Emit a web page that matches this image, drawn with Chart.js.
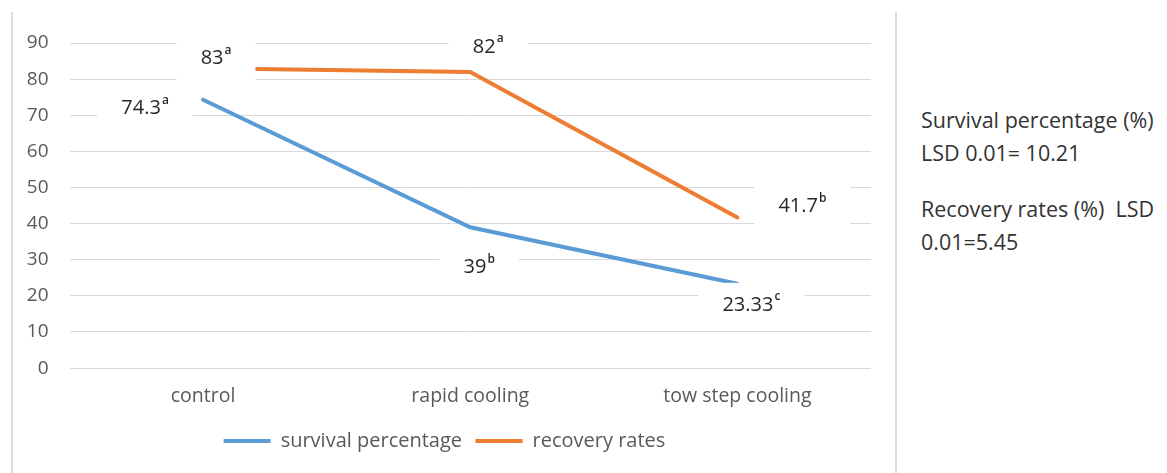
<!DOCTYPE html>
<html lang="en">
  <head>
    <meta charset="UTF-8" />
    <title>Survival and recovery</title>
    <script src="https://cdn.jsdelivr.net/npm/chart.js@4.4.0/dist/chart.umd.min.js"></script>
    <style>
      body { margin: 0; background: #fff; }
      #wrap { position: relative; width: 1167px; height: 473px; overflow: hidden; }
      #box { position: absolute; left: 0; top: 0; width: 896px; height: 473px; }
      .vline { position: absolute; top: 12px; bottom: 0; width: 2px; background: #dcdcdc; }
      #note {
        position: absolute; left: 921px; top: 103px;
        font-family: "Open Sans", sans-serif; font-size: 21.5px; color: #333;
        line-height: 33px;
      }
      #note p { margin: 0 0 23px 0; }
    </style>
  </head>
  <body>
    <div id="wrap">
      <div class="vline" style="left:11px"></div>
      <div class="vline" style="left:895px"></div>
      <div id="box"><canvas id="chart"></canvas></div>
      <div id="note">
        <p>Survival percentage (%)<br />LSD 0.01= 10.21</p>
        <p>Recovery rates (%)&nbsp; LSD<br />0.01=5.45</p>
      </div>
    </div>

    <script>
      // data
      const categories = ["control", "rapid cooling", "tow step cooling"];
      const survival = [74.3, 39, 23.33];
      const recovery = [83, 82, 41.7];
      const survivalLetters = ["a", "b", "c"];
      const recoveryLetters = ["a", "a", "b"];
      const yMin = 0;
      const yMax = 90;
      const yStep = 10;

      const letters = [survivalLetters, recoveryLetters];

      // white boxed value labels with a superscript letter, like Excel draws them
      const valueLabels = {
        id: "valueLabels",
        afterLayout(chart) {
          // legend sits a bit right of centre in the original
          chart.legend.left += 9;
          chart.legend.right += 9;
        },
        afterDatasetsDraw(chart, args, opts) {
          const ctx = chart.ctx;
          ctx.save();
          chart.data.datasets.forEach((ds, i) => {
            const meta = chart.getDatasetMeta(i);
            meta.data.forEach((pt, j) => {
              const off = opts.offsets[i][j];
              const cx = pt.x + off[0];
              const cy = pt.y + off[1];
              const main = String(ds.data[j]);
              const sup = letters[i][j];
              ctx.font = "20px 'Open Sans'";
              const w1 = ctx.measureText(main).width;
              ctx.font = "600 12px 'Open Sans'";
              const w2 = ctx.measureText(sup).width;
              const w = w1 + w2 + 1;
              const bw = w + 48;
              const bh = opts.boxH[i][j];
              ctx.fillStyle = "#fff";
              ctx.fillRect(cx - bw / 2, cy - bh / 2, bw, bh);
              ctx.fillStyle = "#262626";
              ctx.textBaseline = "middle";
              ctx.textAlign = "left";
              ctx.font = "20px 'Open Sans'";
              ctx.fillText(main, cx - w / 2, cy);
              ctx.font = "600 12px 'Open Sans'";
              ctx.fillText(sup, cx - w / 2 + w1 + 1, cy - 8);
            });
          });
          ctx.restore();
        },
      };

      const ctx = document.getElementById("chart").getContext("2d");
      new Chart(ctx, {
        type: "line",
        data: {
          labels: categories,
          datasets: [
            {
              label: "survival percentage",
              data: survival,
              borderColor: "#5B9BD5",
              backgroundColor: "#5B9BD5",
              borderWidth: 4,
              pointRadius: 0,
              tension: 0,
              borderCapStyle: "round",
            },
            {
              label: "recovery rates",
              data: recovery,
              borderColor: "#ED7D31",
              backgroundColor: "#ED7D31",
              borderWidth: 4,
              pointRadius: 0,
              tension: 0,
              borderCapStyle: "round",
            },
          ],
        },
        options: {
          responsive: true,
          maintainAspectRatio: false,
          animation: false,
          layout: { padding: { left: 0, right: 25, top: 43, bottom: 12 } },
          scales: {
            x: {
              offset: true,
              grid: { display: false },
              border: { display: false },
              ticks: {
                padding: 9,
                color: "#595959",
                font: { family: "'Open Sans'", size: 19.5 },
              },
            },
            y: {
              min: yMin,
              max: yMax,
              afterFit: (scale) => { scale.width = 69.5; },
              grid: { color: "#d9d9d9", lineWidth: 1, drawTicks: false },
              border: { display: false },
              ticks: {
                stepSize: yStep,
                padding: 21,
                color: "#595959",
                font: { family: "'Open Sans'", size: 19 },
              },
            },
          },
          plugins: {
            tooltip: { enabled: false },
            legend: {
              position: "bottom",
              labels: {
                boxWidth: 47,
                boxHeight: 4,
                padding: 13.5,
                color: "#595959",
                font: { family: "'Open Sans'", size: 20 },
                generateLabels: (chart) =>
                  Chart.defaults.plugins.legend.labels
                    .generateLabels(chart)
                    .map((it) => Object.assign(it, { lineWidth: 0 })),
              },
            },
            valueLabels: {
              offsets: [
                [[-58, 9], [9, 40], [14, 21]],
                [[13, -10], [18, -25], [65, -11]],
              ],
              boxH: [
                [44, 44, 44],
                [44, 40, 44],
              ],
            },
          },
        },
        plugins: [valueLabels],
      });
    </script>
  </body>
</html>
